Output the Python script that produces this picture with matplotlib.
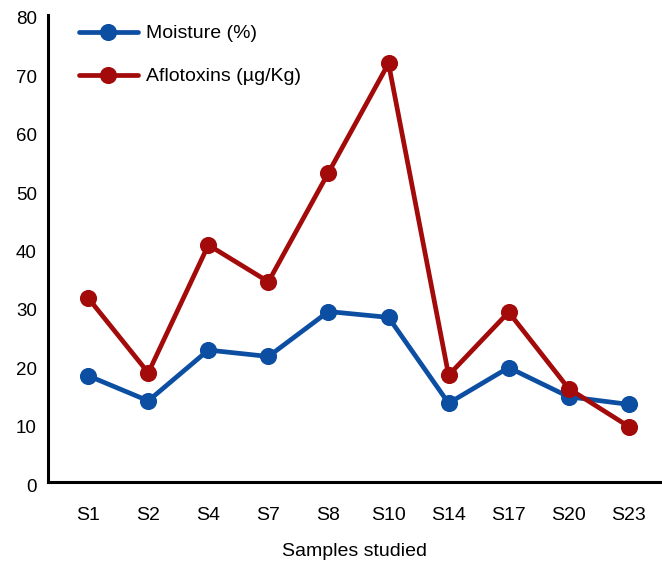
import matplotlib
matplotlib.use('Agg')
import matplotlib.pyplot as plt
from matplotlib.transforms import ScaledTranslation

samples = ['S1', 'S2', 'S4', 'S7', 'S8', 'S10', 'S14', 'S17', 'S20', 'S23']
moisture = [18.2, 13.9, 22.6, 21.5, 29.2, 28.2, 13.5, 19.6, 14.6, 13.3]
aflatoxins = [31.5, 18.7, 40.6, 34.3, 53.0, 71.7, 18.3, 29.1, 16.0, 9.5]
yticks = [0, 10, 20, 30, 40, 50, 60, 70, 80]

BLUE = '#0b4ea2'
RED = '#a30a0a'

plt.rcParams['font.family'] = ['Liberation Sans', 'DejaVu Sans']

fig = plt.figure(figsize=(6.62, 5.61), dpi=100)
ax = fig.add_axes([48 / 662, 1 - 482 / 561, 612 / 662, 467 / 561])

x = list(range(len(samples)))
ax.plot(x, moisture, color=BLUE, lw=3.4, marker='o', ms=11.3,
        label='Moisture (%)', solid_capstyle='round')
ax.plot(x, aflatoxins, color=RED, lw=3.4, marker='o', ms=11.3,
        label='Aflotoxins (µg/Kg)', solid_capstyle='round')

ax.set_xlim(-0.67, 9.52)
ax.set_ylim(0, 80)
ax.set_xticks(x)
ax.set_xticklabels(samples)
ax.set_yticks(yticks)

for side in ('top', 'right'):
    ax.spines[side].set_visible(False)
for side in ('left', 'bottom'):
    ax.spines[side].set_linewidth(2.2)
    ax.spines[side].set_color('black')

ax.tick_params(axis='x', length=0, pad=18, labelsize=14)
ax.tick_params(axis='y', length=0, pad=8, labelsize=13.5)
# y labels in the original sit a few pixels below their gridline value
shift = ScaledTranslation(0, -3 / 100, fig.dpi_scale_trans)
for lbl in ax.get_yticklabels():
    lbl.set_transform(lbl.get_transform() + shift)
ax.set_xlabel('Samples studied', fontsize=14, labelpad=14)

ax.legend(loc='upper left', bbox_to_anchor=(0.051, 0.979), frameon=False,
          fontsize=14, handlelength=3.0, handletextpad=0.45,
          labelspacing=1.3, borderpad=0, borderaxespad=0)

fig.savefig('out.png', dpi=100)
